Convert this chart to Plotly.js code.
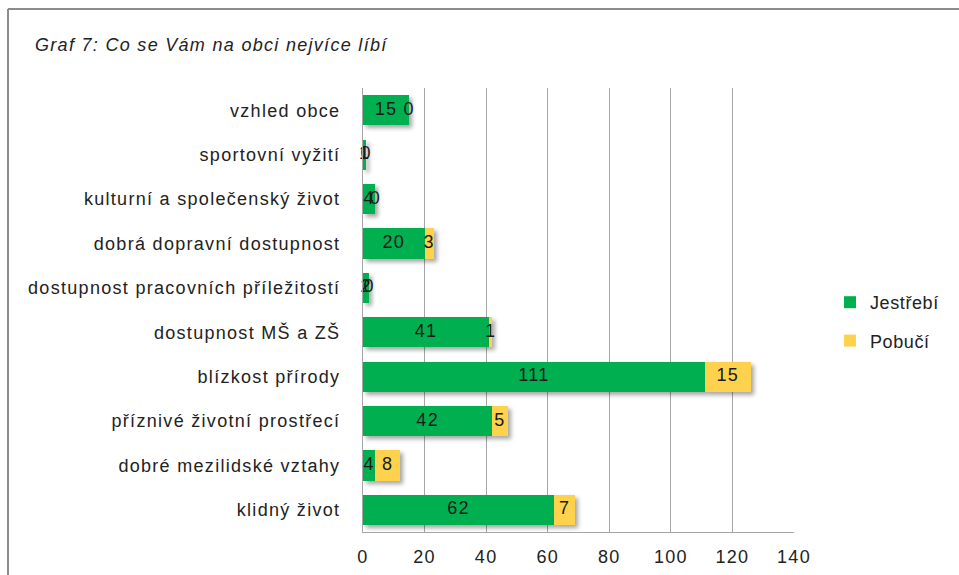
<!DOCTYPE html>
<html>
<head>
<meta charset="utf-8">
<script src="https://cdn.plot.ly/plotly-3.0.1.min.js"></script>
<style>
  html, body { margin: 0; padding: 0; background: #fff; }
  #chart { width: 959px; height: 575px; }
  #chart text { letter-spacing: 1.3px; }
  #chart .legend text { letter-spacing: 0.6px; }
  #chart .bars .point path { filter: drop-shadow(3px 3px 2px rgba(0,0,0,0.35)); }
</style>
</head>
<body>
<div id="chart"></div>
<script>
const categories = [
  "vzhled obce",
  "sportovní vyžití",
  "kulturní a společenský život",
  "dobrá dopravní dostupnost",
  "dostupnost pracovních příležitostí",
  "dostupnost MŠ a ZŠ",
  "blízkost přírody",
  "příznivé životní prostřecí",
  "dobré mezilidské vztahy",
  "klidný život"
];
const jestrebi = [15, 1, 4, 20, 2, 41, 111, 42, 4, 62];
const pobuci   = [0, 0, 0, 3, 0, 1, 15, 5, 8, 7];
const seriesNames = ["Jestřebí", "Pobučí"];
const xTicks = [0, 20, 40, 60, 80, 100, 120, 140];

const green = "#00AF50";
const yellow = "#FFD24D";
const font = "Liberation Sans, Arial, sans-serif";
const FS = 18;

// label positions derived from data (segment midpoints)
const jLabelX = jestrebi.map(v => v / 2);
const pLabelX = jestrebi.map((v, i) => v + pobuci[i] / 2);

const traces = [
  {type: "bar", orientation: "h", name: seriesNames[0], y: categories, x: jestrebi,
   marker: {color: green}, hoverinfo: "x", legendgroup: "a"},
  {type: "bar", orientation: "h", name: seriesNames[1], y: categories, x: pobuci,
   marker: {color: yellow}, hoverinfo: "x", legendgroup: "b"},
  {type: "scatter", mode: "text", x: jLabelX, y: categories, text: jestrebi.map(String),
   textfont: {family: font, size: FS, color: "#1a1a1a"}, showlegend: false, hoverinfo: "skip", cliponaxis: false},
  {type: "scatter", mode: "text", x: pLabelX, y: categories, text: pobuci.map(String),
   textfont: {family: font, size: FS, color: "#1a1a1a"}, showlegend: false, hoverinfo: "skip", cliponaxis: false}
];

const W = 959, H = 575, L = 363, R = 794, T = 88, B = 532;
const px = p => (p - L) / (R - L);
const py = p => (B - p) / (B - T);

const layout = {
  width: W, height: H,
  margin: {l: L, r: W - R, t: T, b: H - B, pad: 0},
  paper_bgcolor: "#fff", plot_bgcolor: "#fff",
  barmode: "stack", bargap: 0.32,
  font: {family: font, size: FS, color: "#222"},
  title: {text: "Graf 7: Co se Vám na obci nejvíce líbí", xref: "container", yref: "container",
          x: 35 / W, xanchor: "left", y: 1 - 45 / H, yanchor: "middle",
          font: {family: font, size: FS, style: "italic", color: "#222"}},
  xaxis: {range: [0, 140], tickvals: xTicks, ticktext: xTicks.map(String), showgrid: true,
          gridcolor: "#a6a6a6", gridwidth: 1, zeroline: false, showline: true, linecolor: "#a6a6a6",
          linewidth: 1, ticks: "", ticklabelstandoff: 8, tickfont: {size: FS, color: "#222"}, fixedrange: true},
  yaxis: {type: "category", autorange: "reversed", showgrid: false, zeroline: false, showline: true,
          linecolor: "#a6a6a6", linewidth: 1, ticks: "", ticklabelstandoff: 18,
          tickfont: {size: FS, color: "#222"}, fixedrange: true},
  legend: {x: px(830), xanchor: "left", y: py(284), yanchor: "top", font: {size: FS, color: "#222"},
           traceorder: "grouped", tracegroupgap: 12, bgcolor: "rgba(0,0,0,0)", itemwidth: 30},
  showlegend: true,
  shapes: [
    {type: "line", xref: "paper", yref: "paper", x0: px(8), x1: px(8), y0: py(9), y1: py(580),
     line: {color: "#8c8c8c", width: 2}},
    {type: "line", xref: "paper", yref: "paper", x0: px(8), x1: px(965), y0: py(9), y1: py(9),
     line: {color: "#8c8c8c", width: 2}}
  ]
};

Plotly.newPlot("chart", traces, layout, {displayModeBar: false, staticPlot: true});
</script>
</body>
</html>
